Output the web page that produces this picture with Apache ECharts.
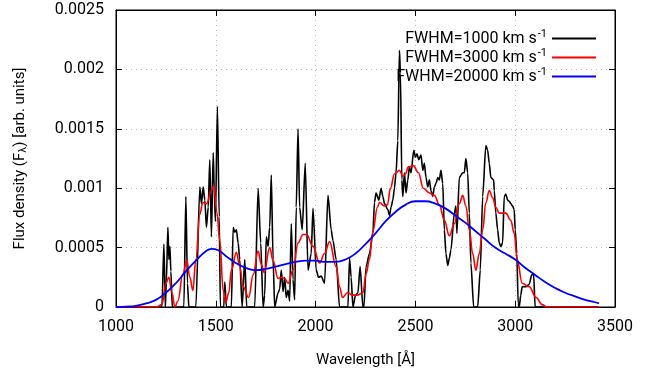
<!DOCTYPE html>
<html>
<head>
<meta charset="utf-8">
<script src="https://cdn.jsdelivr.net/npm/echarts@6/dist/echarts.min.js"></script>
<style>html,body{margin:0;padding:0;background:#fff}#c{width:657px;height:376px}</style>
</head>
<body>
<div id="c"></div>
<script>
// ---- data (wavelength in Å, flux density in arb. units) ----
const seriesNames = ['FWHM=1000 km s', 'FWHM=3000 km s', 'FWHM=20000 km s'];
const xTicks = [1000, 1500, 2000, 2500, 3000, 3500];
const yTicks = [0, 0.0005, 0.001, 0.0015, 0.002, 0.0025];

const blackWl = [1000,1230,1240,1247,1252,1260,1265,1270,1275,1282,1340,1350,1358,1365,1400,1420,1428,1437,1445,1453,1462,1470,1478,1487,1492,1498,1508,1517,1523,1540,1545,1553,
1578,1587,1595,1603,1612,1620,1632,1645,1655,1695,1712,1725,1737,1745,1753,1762,1770,1778,1787,1795,1812,1820,1828,1837,1845,1853,1862,1870,1878,1887,1895,1903,1912,1920,1933,1948,1962,1978,1987,2003,2015,2028,2045,2062,2078,2087,2103,2120,2162,2170,2178,2187,2200,2212,2223,2237,2242,2253,2270,2287,2295,2303,2317,2328,2337,2345,2362,2370,2378,2387,2395,2403,2412,2420,2425,2432,2437,2445,2453,2462,2470,2478,2492,2500,2508,2517,2528,2537,2545,2553,2562,2570,2578,2587,2595,2603,2612,2620,2628,2637,2645,2653,2662,2670,2678,2695,2703,2708,2720,2737,2745,2753,2762,2770,2778,2792,2812,2825,2837,2853,2862,2870,2878,2892,2895,2903,2912,2920,2928,2937,2945,2953,2962,2970,2978,2987,2995,3000,3008,3015,3020,3028,3035,3053,3070,3083,3092,3100,3420];
const blackFlux = [0,0,0.00053,0,0.0002,0.00067,0.0004,0.00051,0.0003,0,0,0.00093,0.0002,0,0,0.00101,0.00087,0.00101,0.0009,0.00067,0.00084,0.00124,0.00059,0.0013,0.00101,0.00072,0.00169,0.00076,0,0,0.00021,0,
0,0.00067,0.00063,0.00065,0.00054,0.0004,0,0.0004,0,0,0.001,0.00054,0,0.0001,0.00059,0.00051,0.00067,0.00111,0.0004,0,0.00012,0.00015,0.00031,0.00013,0.00025,0.00008,0.00014,0.00005,0.0007,0.00023,0.00006,0.00084,0.0015,0.00084,0.00065,0.00121,0.00031,0.00045,0.00083,0.00031,0.00025,0.00026,0.0002,0.00094,0.00065,0.00056,0.0004,0,0,0.00041,0.00025,0,0.0001,0.00012,0.00034,0,0,0.00034,0.00045,0.00062,0.00088,0.00096,0.0009,0.001,0.00093,0.00087,0.00082,0.00077,0.00084,0.0009,0.001,0.00113,0.0014,0.00216,0.00197,0.00107,0.00093,0.00113,0.00096,0.00107,0.00118,0.00113,0.00132,0.00126,0.00129,0.00124,0.00128,0.00115,0.00121,0.00109,0.00101,0.00107,0.00098,0.00093,0.00101,0.00104,0.00109,0.00107,0.00115,0.00104,0.00065,0.00045,0.00035,0.00041,0.00048,0.00079,0.00085,0.00062,0.00109,0.00113,0.00113,0.00125,0.00113,0.00079,0.00037,0,0,0.00031,0.00093,0.00136,0.00132,0.00121,0.00109,0.00107,0.00098,0.00079,0.00065,0.00054,0.00051,0.00054,0.00093,0.00095,0.0009,0.00089,0.00087,0.00085,0.00082,0.00065,0.00045,0.00003,0,0.0001,0.00017,0.00017,0.00019,0.00027,0.00028,0,0];

const redWl = [1000,1200,1230,1250,1265,1280,1295,1310,1335,1355,1370,1385,1400,1420,1435,1455,1475,1490,1505,1520,1537,1550,1565,1578,1603,1620,1637,1665,1687,1712,1728,1742,1770,1787,1812,1828,1845,1862,1887,1912,1937,1955,1987,2020,2045,2070,2103,2120,2135,2160,2185,2210,2237,2253,2270,2285,2310,2320,2345,2360,2375,2395,2420,2437,2450,2465,2490,2515,2540,2570,2595,2620,2645,2670,2695,2720,2737,2753,2770,2787,2803,2820,2837,2853,2870,2887,2903,2920,2953,2978,2995,3010,3035,3070,3105,3135,3160,3420];
const redFlux = [0,0,0.00002,0.0002,0.00025,0.00012,0,0.00005,0.00028,0.00039,0.00025,0.00014,0.0004,0.00078,0.00088,0.00087,0.00097,0.00102,0.0008,0.00056,0.00014,0.00004,0.00012,0.00031,0.00046,0.00034,0.00017,0.00008,0.00027,0.00047,0.00036,0.00029,0.0005,0.00039,0.00024,0.00025,0.00024,0.0002,0.00031,0.00054,0.00061,0.00061,0.00051,0.00037,0.00045,0.00055,0.00034,0.00017,0.00008,0.00012,0.0001,0.0001,0.00012,0.00028,0.0004,0.00062,0.00084,0.00088,0.00085,0.00086,0.001,0.00112,0.00115,0.0011,0.00112,0.00118,0.00119,0.00113,0.001,0.00096,0.00094,0.00086,0.00073,0.0006,0.0007,0.00087,0.00094,0.00085,0.00065,0.00045,0.00031,0.00045,0.00065,0.00088,0.00098,0.00092,0.00084,0.00079,0.00079,0.00073,0.00062,0.0004,0.0002,0.00017,0.00008,0.00002,0,0];

const blueWl = [1000,1050,1100,1150,1200,1250,1300,1350,1400,1450,1480,1510,1550,1600,1650,1700,1750,1800,1850,1900,1950,2000,2050,2100,2150,2200,2250,2300,2350,2400,2450,2500,2550,2600,2650,2700,2750,2800,2850,2900,2950,3000,3050,3100,3150,3200,3250,3300,3350,3400,3420];
const blueFlux = [0,0.000003,0.00001,0.00003,0.00006,0.00012,0.0002,0.0003,0.00039,0.00047,0.00049,0.00048,0.00043,0.00037,0.00033,0.00031,0.00032,0.00034,0.00036,0.00038,0.00039,0.00039,0.00038,0.00038,0.0004,0.00045,0.00053,0.00062,0.00072,0.0008,0.00086,0.00089,0.00089,0.00087,0.00083,0.00077,0.00071,0.00064,0.00057,0.0005,0.00045,0.0004,0.00033,0.00027,0.00021,0.00016,0.00012,0.00009,0.00006,0.00004,0.00003];

const zip = (a, b) => a.map((v, i) => [v, b[i]]);
const FONT = 'Roboto';
const FS = 16;
const colors = ['#000000', '#ff0000', '#0000ff'];

const chart = echarts.init(document.getElementById('c'), null, {renderer: 'canvas'});

function legendFor(i, top) {
  return {
    data: [seriesNames[i]],
    right: 56, top: top,
    orient: 'vertical', align: 'right',
    icon: 'rect', itemWidth: 44, itemHeight: 2, itemGap: 0,
    selectedMode: false,
    formatter: n => '{a|' + n + '}{sup|-1}',
    textStyle: {
      fontFamily: FONT, fontSize: FS, color: '#000',
      rich: {
        a: {fontFamily: FONT, fontSize: FS, color: '#000'},
        sup: {fontFamily: FONT, fontSize: 11, color: '#000', padding: [0, 0, 8, 1]}
      }
    }
  };
}

const axisLineStyle = {show: true, onZero: false, lineStyle: {color: '#000', width: 1}};
const axisTickStyle = {show: true, inside: true, length: 6, lineStyle: {color: '#000', width: 1}};
const gridLine = {show: true, lineStyle: {color: '#bbbbbb', type: [1, 4], width: 1}};

chart.setOption({
  animation: false,
  backgroundColor: '#fff',
  grid: {left: 116, right: 42, top: 10, bottom: 69, containLabel: false,
         show: true, borderColor: '#000', borderWidth: 1, backgroundColor: 'transparent'},
  legend: [legendFor(0, 24), legendFor(1, 43), legendFor(2, 62)],
  xAxis: [{
    type: 'value', min: xTicks[0], max: xTicks[xTicks.length - 1], interval: 500,
    position: 'bottom', gridIndex: 0,
    name: 'Wavelength [Å]', nameLocation: 'middle', nameGap: 46,
    nameTextStyle: {fontFamily: FONT, fontSize: FS - 1, color: '#000'},
    axisLabel: {fontFamily: FONT, fontSize: FS, color: '#000', margin: 12, formatter: v => String(v)},
    splitLine: gridLine, axisLine: axisLineStyle, axisTick: axisTickStyle
  }, {
    type: 'value', min: xTicks[0], max: xTicks[xTicks.length - 1], interval: 500,
    position: 'top', gridIndex: 0, show: true,
    axisLabel: {show: false}, splitLine: {show: false},
    axisLine: axisLineStyle, axisTick: axisTickStyle
  }],
  yAxis: [{
    type: 'value', min: yTicks[0], max: yTicks[yTicks.length - 1], interval: 0.0005,
    position: 'left', gridIndex: 0,
    name: '{a|Flux density (F}{sub|λ}{a|) [arb. units]}', nameLocation: 'middle', nameGap: 87, nameRotate: 90,
    nameTextStyle: {fontFamily: FONT, fontSize: FS - 1, color: '#000',
      rich: {a: {fontFamily: FONT, fontSize: FS - 1, color: '#000'},
             sub: {fontFamily: FONT, fontSize: 11, color: '#000', padding: [6, 0, 0, 0]}}},
    axisLabel: {fontFamily: FONT, fontSize: FS, color: '#000', margin: 12, formatter: v => String(+v.toFixed(4))},
    splitLine: gridLine, axisLine: axisLineStyle, axisTick: axisTickStyle
  }, {
    type: 'value', min: yTicks[0], max: yTicks[yTicks.length - 1], interval: 0.0005,
    position: 'right', gridIndex: 0, show: true,
    axisLabel: {show: false}, splitLine: {show: false},
    axisLine: axisLineStyle, axisTick: axisTickStyle
  }],
  series: [
    {name: seriesNames[0], type: 'line', data: zip(blackWl, blackFlux), showSymbol: false, symbol: 'none',
     smooth: 0.25, smoothMonotone: 'x', lineStyle: {color: colors[0], width: 1.6}, itemStyle: {color: colors[0]}, z: 2},
    {name: seriesNames[1], type: 'line', data: zip(redWl, redFlux), showSymbol: false, symbol: 'none',
     smooth: 0.4, smoothMonotone: 'x', lineStyle: {color: colors[1], width: 1.6}, itemStyle: {color: colors[1]}, z: 3},
    {name: seriesNames[2], type: 'line', data: zip(blueWl, blueFlux), showSymbol: false, symbol: 'none',
     smooth: 0.5, lineStyle: {color: colors[2], width: 1.8}, itemStyle: {color: colors[2]}, z: 4},
    {name: 'mirror', type: 'line', xAxisIndex: 1, yAxisIndex: 1, data: [], showSymbol: false, silent: true}
  ]
});
</script>
</body>
</html>
